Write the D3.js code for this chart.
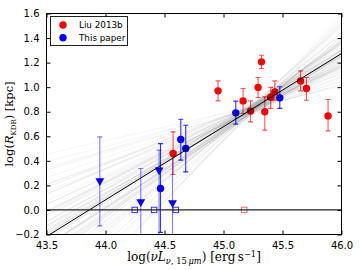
<!DOCTYPE html>
<html>
<head>
<meta charset="utf-8">
<script src="https://cdn.jsdelivr.net/npm/d3@7"></script>
<style>
  body { margin: 0; background: #fff; }
  svg { display: block; }
  .tick text { font-family: "DejaVu Sans", sans-serif; font-size: 10px; }
</style>
</head>
<body>
<div class="chart"></div>
<script>
// Liu 2013b sample
var redX  = [44.573, 44.954, 45.166, 45.229, 45.293, 45.322, 45.35, 45.40, 45.435, 45.653, 45.703, 45.886];
var redY  = [0.46, 0.97, 0.888, 0.805, 0.998, 1.206, 0.80, 0.918, 0.962, 1.051, 0.989, 0.766];
var redLo = [0.289, 0.888, 0.786, 0.717, 0.916, 1.152, 0.65, 0.827, 0.894, 0.97, 0.894, 0.644];
var redHi = [0.636, 1.051, 0.989, 0.888, 1.079, 1.26, 0.921, 0.998, 1.051, 1.133, 1.079, 0.90];

// This paper: detections
var blueX  = [44.466, 44.638, 44.68, 45.104, 45.477];
var blueY  = [0.175, 0.574, 0.50, 0.791, 0.913];
var blueLo = [-0.183, 0.406, 0.31, 0.699, 0.827];
var blueHi = [0.54, 0.739, 0.69, 0.886, 1.003];

// This paper: upper limits (triangles)
var limX  = [43.952, 44.299, 44.454, 44.568];
var limY  = [0.237, 0.066, 0.324, 0.058];
var limLo = [-0.13, -0.3, -0.3, -0.3];
var limHi = [0.595, 0.338, 0.487, 0.46];

// open squares sitting on zero
var blueSqX = [44.248, 44.412, 44.596];
var redSqX = [45.176];

// best fit + posterior sample lines (slope, value at 45.25)
var fitSlope = 0.596, fitAt45 = 0.678;
var sampleSlope = [0.60,0.55,0.66,0.48,0.72,0.58,0.63,0.51,0.69,0.44,0.78,0.61,0.54,0.67,0.40,0.85,0.57,0.64,0.50,0.74,0.36,0.92,0.59,0.62,0.46,0.70,0.31,0.98,0.56,0.65,0.53,0.76,0.27,0.82,0.60,0.49,0.68,0.42,0.88,0.22,0.57,0.63,0.52,0.71,0.38,0.80,0.34,0.95,0.47,1.02,
  0.58,0.62,0.53,0.69,0.45,0.75,0.60,0.56,0.64,0.50,0.81,0.39,0.66,0.59,0.71,0.47,0.87,0.33,0.61,0.55,0.73,0.43,0.90,0.29,0.63,0.57,0.68,0.52,0.77,0.41,0.96,0.25,0.60,0.65,0.54,0.70,0.48,0.84,0.37,1.00,0.58,0.62,0.56,0.67,0.45,0.79,0.35,0.93,0.51,0.74];
var samplePivot = [0.83,0.80,0.86,0.82,0.84,0.79,0.85,0.87,0.81,0.84,0.82,0.78,0.85,0.80,0.83,0.86,0.82,0.88,0.79,0.81,0.84,0.83,0.86,0.80,0.85,0.82,0.87,0.81,0.84,0.78,0.83,0.86,0.82,0.80,0.85,0.81,0.83,0.86,0.79,0.84,0.82,0.80,0.87,0.83,0.85,0.81,0.80,0.84,0.82,0.83,
  0.82,0.84,0.80,0.86,0.83,0.81,0.85,0.79,0.87,0.82,0.84,0.86,0.80,0.83,0.85,0.81,0.82,0.84,0.78,0.86,0.83,0.80,0.85,0.83,0.81,0.87,0.84,0.79,0.82,0.85,0.80,0.83,0.86,0.82,0.81,0.84,0.83,0.87,0.80,0.82,0.85,0.79,0.83,0.86,0.81,0.84,0.82,0.80,0.85,0.83];

var xTicks = [43.5, 44.0, 44.5, 45.0, 45.5, 46.0];
var yTicks = [-0.2, 0.0, 0.2, 0.4, 0.6, 0.8, 1.0, 1.2, 1.4, 1.6];

var width = 360, height = 270;
var pl = 46.5, pr = 341.5, pt = 13.5, pb = 234.5;

var svg = d3.select(".chart").append("svg")
  .attr("width", width)
  .attr("height", height);

var x = d3.scaleLinear().domain([43.5, 46.0]).range([pl, pr]);
var y = d3.scaleLinear().domain([-0.2, 1.6]).range([pb, pt]);
var fmt = d3.format(".1f");

svg.append("clipPath").attr("id", "clip")
  .append("rect")
  .attr("x", pl).attr("y", pt)
  .attr("width", pr - pl).attr("height", pb - pt);

var plot = svg.append("g").attr("clip-path", "url(#clip)");

function errBars(g, xs, lo, hi, color, op) {
  var bars = g.append("g").attr("stroke", color).attr("stroke-opacity", op).attr("stroke-width", 1.1);
  xs.forEach(function(v, i) {
    var cx = x(v);
    bars.append("line").attr("x1", cx).attr("x2", cx).attr("y1", y(lo[i])).attr("y2", y(hi[i]));
    [lo[i], hi[i]].forEach(function(e) {
      bars.append("line").attr("x1", cx - 2.5).attr("x2", cx + 2.5).attr("y1", y(e)).attr("y2", y(e));
    });
  });
}

errBars(plot, redX, redLo, redHi, "#ff0000", 0.65);
errBars(plot, limX, limLo, limHi, "#0000ff", 0.5);
errBars(plot, blueX, blueLo, blueHi, "#0000ff", 0.8);

// squares
plot.selectAll(".sqb").data(blueSqX).enter().append("rect")
  .attr("x", function(d) { return x(d) - 2.7; })
  .attr("y", y(0) - 2.7)
  .attr("width", 5.4).attr("height", 5.4)
  .attr("fill", "none").attr("stroke", "#0000ff").attr("stroke-opacity", 0.8);
plot.selectAll(".sqr").data(redSqX).enter().append("rect")
  .attr("x", function(d) { return x(d) - 2.7; })
  .attr("y", y(0) - 2.7)
  .attr("width", 5.4).attr("height", 5.4)
  .attr("fill", "none").attr("stroke", "#ff0000").attr("stroke-opacity", 0.6);

// markers
plot.selectAll(".red").data(redX).enter().append("circle")
  .attr("cx", function(d) { return x(d); })
  .attr("cy", function(d, i) { return y(redY[i]); })
  .attr("r", 3.7).attr("fill", "#ff0000");
plot.selectAll(".blue").data(blueX).enter().append("circle")
  .attr("cx", function(d) { return x(d); })
  .attr("cy", function(d, i) { return y(blueY[i]); })
  .attr("r", 3.7).attr("fill", "#0000ff");
var tri = d3.symbol().type(d3.symbolTriangle).size(34);
plot.selectAll(".lim").data(limX).enter().append("path")
  .attr("d", tri)
  .attr("transform", function(d, i) { return "translate(" + x(d) + "," + y(limY[i]) + ") rotate(180)"; })
  .attr("fill", "#0000ff");

// sample lines on top (they shade the points under them)
plot.append("g").selectAll("line").data(sampleSlope).enter().append("line")
  .attr("x1", x(43.5)).attr("x2", x(46.0))
  .attr("y1", function(d, i) { return y(samplePivot[i] + d * (43.5 - 45.25)); })
  .attr("y2", function(d, i) { return y(samplePivot[i] + d * (46.0 - 45.25)); })
  .attr("stroke", "#000").attr("stroke-opacity", 0.04).attr("stroke-width", 1);

plot.append("line")
  .attr("x1", x(43.5)).attr("x2", x(46.0))
  .attr("y1", y(fitAt45 + fitSlope * (43.5 - 45))).attr("y2", y(fitAt45 + fitSlope * (46.0 - 45)))
  .attr("stroke", "#000").attr("stroke-width", 1);

plot.append("line")
  .attr("x1", pl).attr("x2", pr).attr("y1", y(0)).attr("y2", y(0))
  .attr("stroke", "#222").attr("stroke-width", 1.2);

// axes, ticks inward on all four sides
svg.append("g").attr("transform", "translate(0," + pb + ")")
  .call(d3.axisBottom(x).tickValues(xTicks).tickFormat(fmt).tickSizeInner(-4).tickSizeOuter(0).tickPadding(7));
svg.append("g").attr("transform", "translate(0," + pt + ")")
  .call(d3.axisTop(x).tickValues(xTicks).tickFormat("").tickSizeInner(-4).tickSizeOuter(0));
svg.append("g").attr("transform", "translate(" + pl + ",0)")
  .call(d3.axisLeft(y).tickValues(yTicks).tickFormat(fmt).tickSizeInner(-4).tickSizeOuter(0).tickPadding(7));
svg.append("g").attr("transform", "translate(" + pr + ",0)")
  .call(d3.axisRight(y).tickValues(yTicks).tickFormat("").tickSizeInner(-4).tickSizeOuter(0));
svg.selectAll(".domain").remove();
svg.selectAll(".tick text").attr("fill", "#000");

svg.append("rect")
  .attr("x", pl).attr("y", pt)
  .attr("width", pr - pl).attr("height", pb - pt)
  .attr("fill", "none").attr("stroke", "#000").attr("stroke-width", 1);

// axis titles
var xl = svg.append("text")
  .attr("x", (pl + pr) / 2).attr("y", 261)
  .attr("text-anchor", "middle")
  .style("font-family", "'DejaVu Serif', serif").style("font-size", "12px");
xl.append("tspan").text("log(");
xl.append("tspan").attr("font-style", "italic").text("\u03bdL");
xl.append("tspan").attr("font-style", "italic").attr("font-size", "8.3px").attr("dy", 2.5).text("\u03bd");
xl.append("tspan").attr("font-size", "8.3px").text(", 15\u2009");
xl.append("tspan").attr("font-style", "italic").attr("font-size", "8.3px").text("\u03bcm");
xl.append("tspan").attr("dy", -2.5).text(") [erg\u2009s");
xl.append("tspan").attr("font-size", "8.3px").attr("dy", -4.5).text("\u22121");
xl.append("tspan").attr("dy", 4.5).text("]");

var yl = svg.append("text")
  .attr("transform", "translate(13," + ((pt + pb) / 2) + ") rotate(-90)")
  .attr("text-anchor", "middle")
  .style("font-family", "'DejaVu Serif', serif").style("font-size", "11.5px");
yl.append("tspan").text("log(");
yl.append("tspan").attr("font-style", "italic").text("R");
yl.append("tspan").attr("font-size", "7px").attr("dy", 2.5).text("KDR");
yl.append("tspan").attr("dy", -2.5).text(") [kpc]");

// legend
var lg = svg.append("g");
lg.append("rect")
  .attr("x", 50.5).attr("y", 16.5).attr("width", 77).attr("height", 29)
  .attr("fill", "#fff").attr("stroke", "#222").attr("stroke-width", 1);
var entries = [["Liu 2013b", "#ff0000"], ["This paper", "#0000ff"]];
entries.forEach(function(e, i) {
  lg.append("circle").attr("cx", 63).attr("cy", 25 + i * 12.7).attr("r", 3.7).attr("fill", e[1]);
  lg.append("text").attr("x", 79).attr("y", 28.2 + i * 12.7)
    .style("font-family", "'DejaVu Sans', sans-serif").style("font-size", "8.8px")
    .text(e[0]);
});
</script>
</body>
</html>
